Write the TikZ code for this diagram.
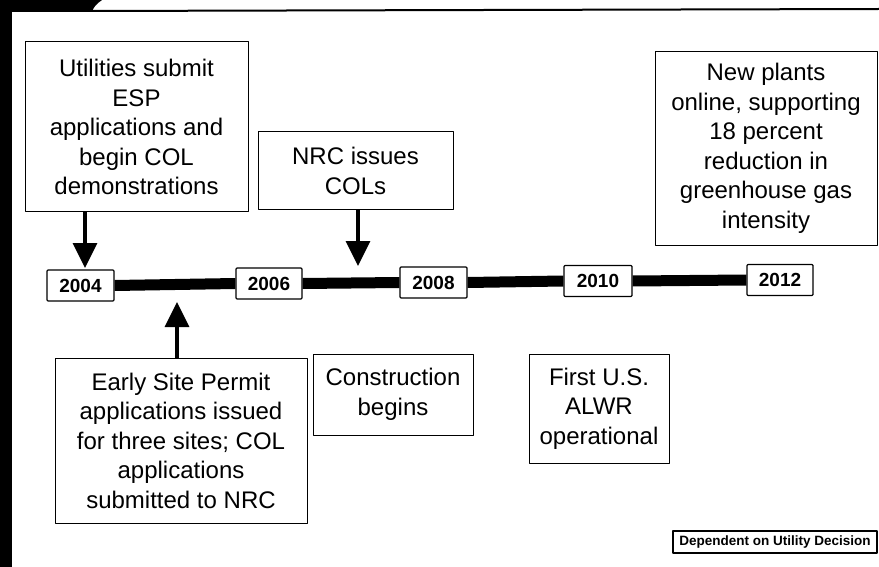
\documentclass[tikz,border=0pt]{standalone}
\usepackage{fontspec}
\setmainfont{Liberation Sans}
\usetikzlibrary{arrows.meta}
\begin{document}
\begin{tikzpicture}[x=1pt,y=-1pt,>={Triangle[width=24pt,length=25pt]},line join=round,
    event/.style={draw,line width=1pt,align=center,inner sep=2pt,
        font=\fontsize{24}{29.5}\selectfont},
    year/.style={draw,line width=1.2pt,rounded corners=1pt,minimum height=31pt,
        font=\fontsize{19}{19}\selectfont\bfseries},
    link/.style={->,line width=3.5pt}]
    \useasboundingbox (0,0) rectangle (879,567);
    % slide frame
    \fill (0,0) rectangle (12,567);
    \fill (0,0) -- (102,0) .. controls (96,4) and (93,8) .. (92,12) -- (0,12) -- cycle;
    \draw[line width=2pt] (90,11)--(879,9);
    % the years
    \node[year,minimum width=67pt] (y2004) at (80.5,285.5) {2004};
    \node[year,minimum width=66pt] (y2006) at (269,283.5) {2006};
    \node[year,minimum width=67pt] (y2008) at (433.5,282.5) {2008};
    \node[year,minimum width=68pt] (y2010) at (598,281) {2010};
    \node[year,minimum width=66pt] (y2012) at (780,280) {2012};
    \foreach \a/\b in {y2004/y2006,y2006/y2008,y2008/y2010,y2010/y2012}
        \draw[line width=11pt] (\a.east)--(\b.west);
    % events above the line
    \node[event,minimum width=223pt,minimum height=170pt] (esp) at (136.5,127)
        {Utilities submit\\ESP\\applications and\\begin COL\\demonstrations};
    \node[event,minimum width=195pt,minimum height=78pt] (nrc) at (355.5,171)
        {NRC issues\\COLs};
    \node[event,minimum width=222pt,minimum height=193pt] (online) at (766,148.5)
        {New plants\\online, supporting\\18 percent\\reduction in\\greenhouse gas\\intensity};
    % events below the line
    \node[event,minimum width=252pt,minimum height=165pt] (permit) at (181,440.5)
        {Early Site Permit\\applications issued\\for three sites; COL\\applications\\submitted to NRC};
    \node[event,minimum width=160pt,minimum height=81pt] (build) at (393,394.5)
        {Construction\\begins};
    \node[event,minimum width=140pt,minimum height=109pt] (alwr) at (599,408.5)
        {First U.S.\\ALWR\\operational};
    \node[draw,line width=1.2pt,minimum width=204pt,minimum height=22pt,inner sep=1pt,
        font=\fontsize{13.5}{13.5}\selectfont\bfseries] (note) at (775,542)
        {Dependent on Utility Decision};
    % arrows onto the line
    \coordinate (colsOn) at (358,266);
    \coordinate (espOn) at (177,302);
    \draw[link] (esp.south -| 85,0)--(85,268);
    \draw[link] (nrc.south -| colsOn)--(colsOn);
    \draw[link] (permit.north -| espOn)--(espOn);
\end{tikzpicture}
\end{document}
